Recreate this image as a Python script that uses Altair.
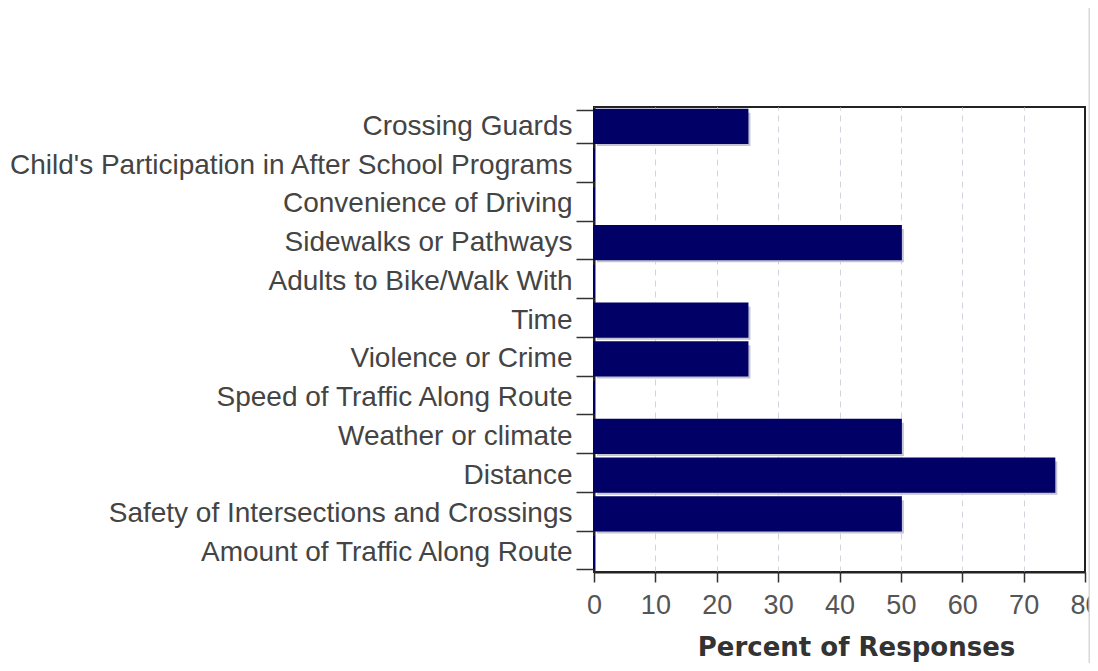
import altair as alt
import pandas as pd

categories = [
    "Crossing Guards",
    "Child's Participation in After School Programs",
    "Convenience of Driving",
    "Sidewalks or Pathways",
    "Adults to Bike/Walk With",
    "Time",
    "Violence or Crime",
    "Speed of Traffic Along Route",
    "Weather or climate",
    "Distance",
    "Safety of Intersections and Crossings",
    "Amount of Traffic Along Route",
]
values = [25, 0, 0, 50, 0, 25, 25, 0, 50, 75, 50, 0]
x_ticks = [0, 10, 20, 30, 40, 50, 60, 70, 80]

df = pd.DataFrame({"category": categories, "percent": values})

W, H = 491, 465

y_enc = alt.Y(
    "category:N",
    sort=categories,
    scale=alt.Scale(paddingInner=0.14, paddingOuter=0.07),
    axis=alt.Axis(
        title=None,
        tickBand="extent",
        tickSize=18,
        tickColor="#333333",
        tickWidth=1.5,
        labelFont="Liberation Sans",
        labelFontSize=28,
        labelColor="#444444",
        labelPadding=4,
        labelLimit=700,
        domainColor="#222222",
        domainWidth=2,
        grid=False,
    ),
)
x_enc = alt.X(
    "percent:Q",
    scale=alt.Scale(domain=[0, 80], nice=False),
    axis=alt.Axis(
        values=x_ticks,
        title="Percent of Responses",
        titleFont="DejaVu Sans",
        titleFontSize=26,
        titleFontWeight="bold",
        titleColor="#333333",
        titleBaseline="alphabetic",
        titleX=262,
        titleY=83,
        labelFont="Liberation Sans",
        labelFontSize=27,
        labelColor="#555555",
        labelPadding=10,
        labelFlush=False,
        tickSize=10,
        tickColor="#333333",
        tickWidth=1.5,
        domainColor="#222222",
        domainWidth=2,
        grid=True,
        gridColor="#d0d4dc",
        gridDash=[6, 5],
        gridWidth=1,
    ),
)

shadow = alt.Chart(df).mark_bar(color="#c4c4d4", xOffset=3, yOffset=3).encode(
    x=x_enc, y=y_enc
)

bars = alt.Chart(df).mark_bar(color="#000066", stroke="#000066", strokeWidth=2).encode(
    x=x_enc, y=y_enc
)

right_border = alt.Chart(pd.DataFrame({"a": [0]})).mark_rule(
    color="#222222", strokeWidth=2
).encode(
    x=alt.value(W), y=alt.value(0), y2=alt.value(H)
)

page_line = alt.Chart(pd.DataFrame({"a": [0]})).mark_rule(
    color="#d8d8d8", strokeWidth=3, clip=False
).encode(
    x=alt.value(496), y=alt.value(-110), y2=alt.value(580)
)

chart = (
    alt.layer(shadow, bars, right_border, page_line)
    .properties(
        width=W,
        height=H,
        autosize=alt.AutoSizeParams(type="none"),
        padding={"left": 586, "top": 99, "right": 5, "bottom": 91},
    )
    .configure(background="white")
    .configure_view(stroke="#222222", strokeWidth=2)
)

chart.save("out.html", embed_options={"renderer": "svg", "actions": False})
